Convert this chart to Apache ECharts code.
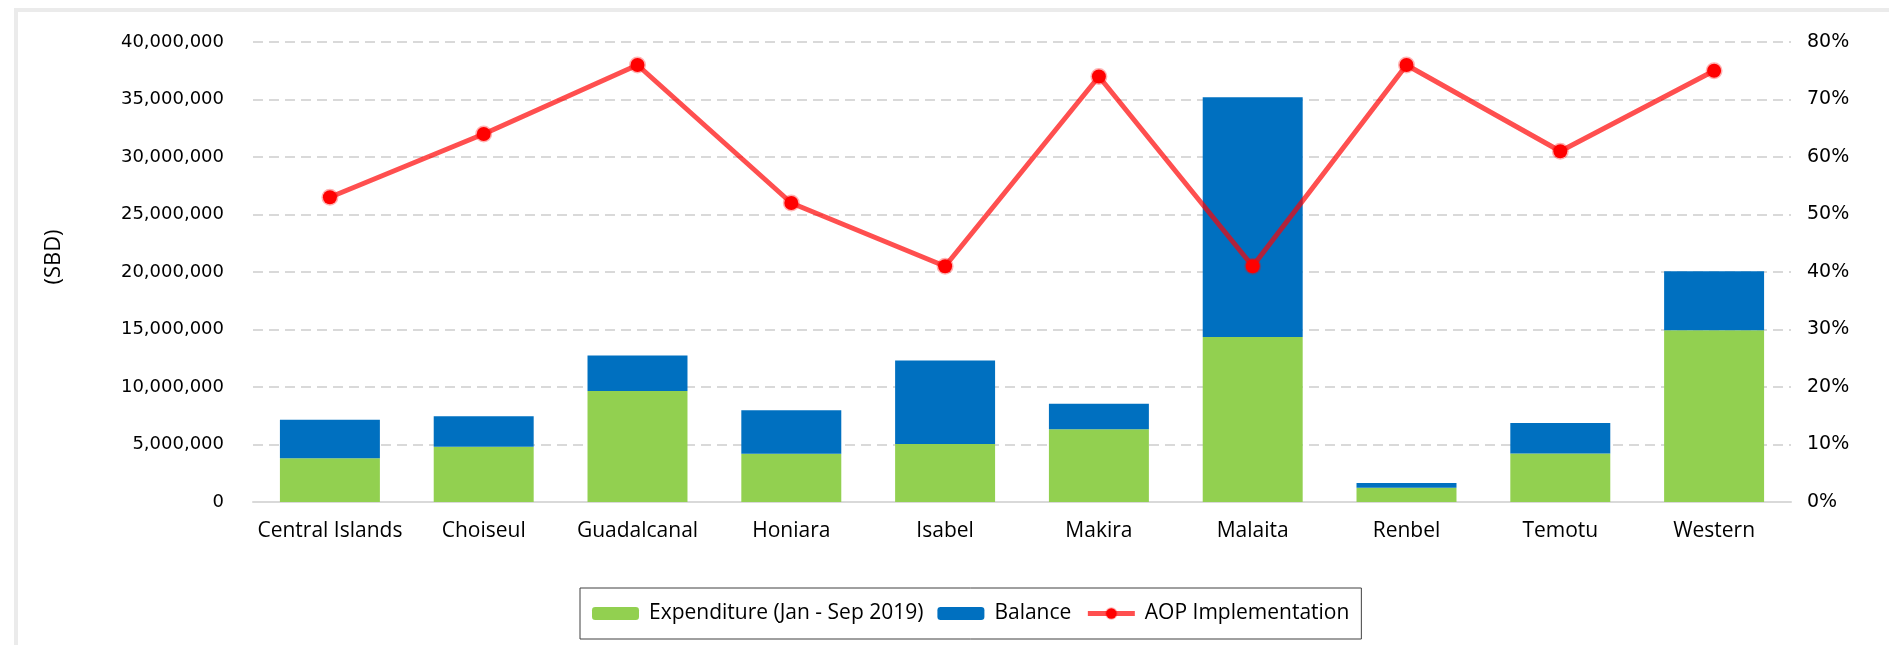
<!DOCTYPE html>
<html lang="en">
<head>
    <meta charset="UTF-8">
    <title>AOP Implementation by Province</title>
    <script src="https://cdn.jsdelivr.net/npm/echarts@6/dist/echarts.min.js"></script>
    <style>
        html, body { margin: 0; padding: 0; background: #fff; }
    </style>
</head>
<body>
<div id="main" style="width: 1889px;height:645px;"></div>
<script type="text/javascript">
    // data
    var provinces = ['Central Islands', 'Choiseul', 'Guadalcanal', 'Honiara', 'Isabel',
                     'Makira', 'Malaita', 'Renbel', 'Temotu', 'Western'];
    var expenditure = [3800000, 4800000, 9650000, 4200000, 5050000,
                       6330000, 14350000, 1240000, 4220000, 14940000];
    var balance = [3350000, 2650000, 3100000, 3780000, 7250000,
                   2210000, 20850000, 410000, 2640000, 5120000];
    var aopImplementation = [53, 64, 76, 52, 41, 74, 41, 76, 61, 75];

    var labelFont = 'DejaVu Sans';
    var textFont = 'Open Sans';
    var lineColor = 'rgba(255, 0, 0, 0.69)';

    var myChart = echarts.init(document.getElementById('main'));

    var option = {
        animation: false,
        textStyle: { fontFamily: labelFont },
        graphic: [{
            // light frame round the chart area
            type: 'rect',
            shape: { x: 16, y: 10, width: 1900, height: 700 },
            style: { fill: 'none', stroke: '#ebebeb', lineWidth: 4 },
            silent: true
        }, {
            // y axis title, sits a little above the middle like the original
            type: 'text',
            x: 54,
            y: 257,
            rotation: Math.PI / 2,
            style: {
                text: '(SBD)', fontFamily: textFont, fontSize: 22, fill: '#000',
                align: 'center', verticalAlign: 'middle'
            },
            silent: true
        }],
        grid: { left: 253, right: 98, top: 42, bottom: 143 },
        legend: {
            left: 580,
            top: 588,
            padding: [15, 12, 15, 12],
            borderColor: '#404040',
            borderWidth: 1,
            itemWidth: 47,
            itemHeight: 13,
            itemGap: 14,
            textStyle: { fontFamily: textFont, fontSize: 21, color: '#000', padding: [0, 0, 0, 5] },
            data: [
                { name: 'Expenditure (Jan - Sep 2019)' },
                { name: 'Balance' },
                { name: 'AOP Implementation', lineStyle: { width: 5 } }
            ]
        },
        xAxis: {
            type: 'category',
            data: provinces,
            axisTick: { show: false },
            axisLine: { lineStyle: { color: '#d9d9d9', width: 2 } },
            axisLabel: { interval: 0, fontSize: 21, color: '#000', margin: 19, fontFamily: textFont }
        },
        yAxis: [{
            type: 'value',
            min: 0,
            max: 40000000,
            interval: 5000000,
            axisLine: { show: false },
            axisTick: { show: false },
            axisLabel: {
                fontSize: 18, color: '#000', margin: 29,
                formatter: function (v) { return v.toLocaleString('en-US'); }
            },
            splitLine: { lineStyle: { color: '#d9d9d9', width: 2, type: [10, 6] } }
        }, {
            type: 'value',
            min: 0,
            max: 80,
            interval: 10,
            position: 'right',
            axisLine: { show: false },
            axisTick: { show: false },
            axisLabel: { fontSize: 19, color: '#000', margin: 16, formatter: '{value}%' },
            splitLine: { show: false }
        }],
        series: [{
            name: 'Expenditure (Jan - Sep 2019)',
            type: 'bar',
            stack: 'total',
            barCategoryGap: '35%',
            itemStyle: { color: '#92D050' },
            data: expenditure
        }, {
            name: 'Balance',
            type: 'bar',
            stack: 'total',
            itemStyle: { color: '#0070C0' },
            data: balance
        }, {
            name: 'AOP Implementation',
            type: 'line',
            yAxisIndex: 1,
            symbol: 'circle',
            symbolSize: 14,
            lineStyle: { color: lineColor, width: 5 },
            itemStyle: { color: '#ff0000', borderColor: 'rgba(255, 0, 0, 0.3)', borderWidth: 3 },
            data: aopImplementation
        }]
    };

    myChart.setOption(option);
</script>
</body>
</html>
